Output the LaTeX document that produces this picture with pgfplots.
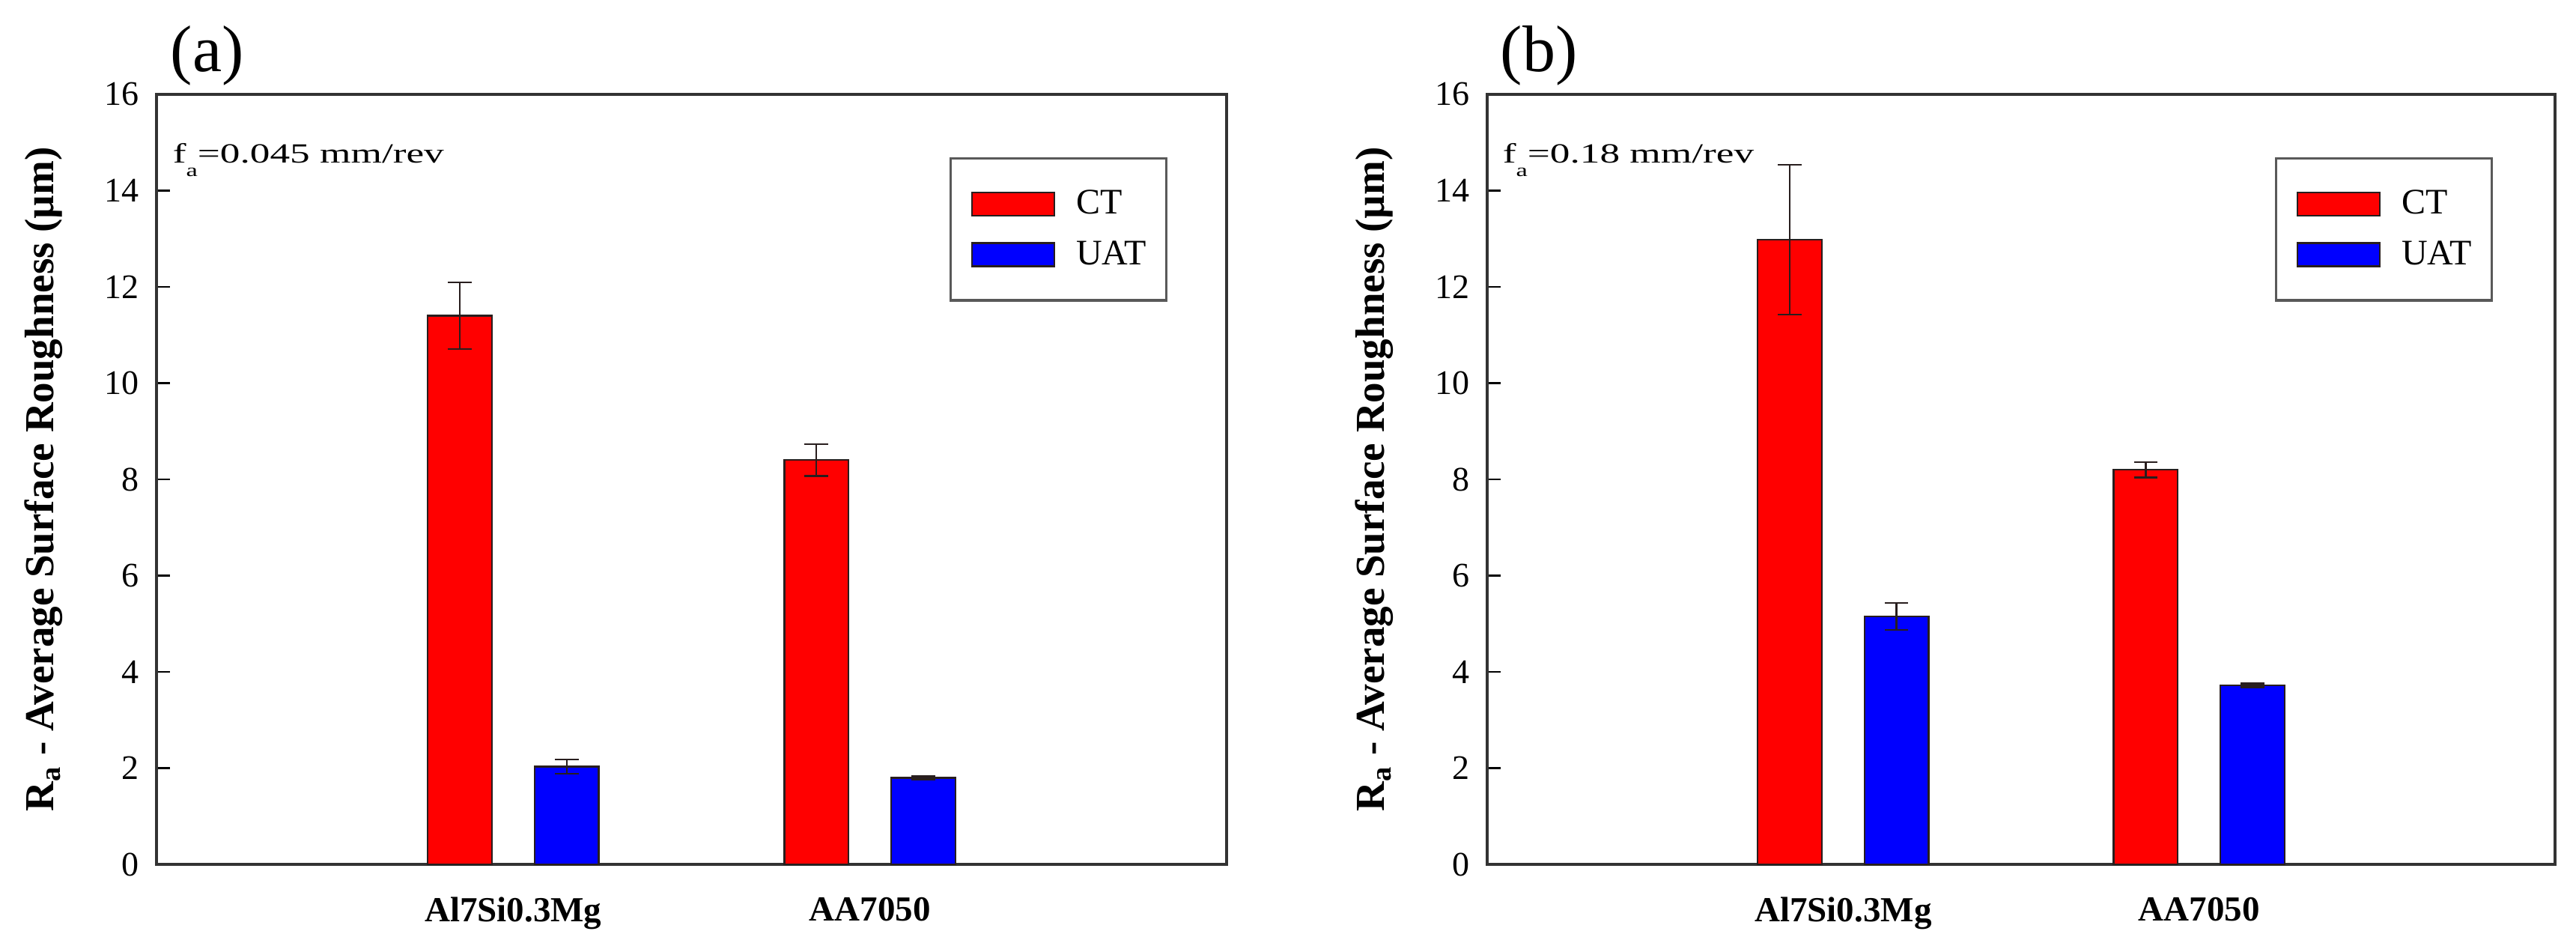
\documentclass[border=0pt]{standalone}
\usepackage{fontspec}
\setmainfont{Liberation Serif}
\usepackage{graphicx}
\usepackage{pgfplots}
\pgfplotsset{compat=1.18}

\definecolor{ctred}{RGB}{255,0,0}
\definecolor{uatblue}{RGB}{0,0,255}
\definecolor{edge}{RGB}{40,30,30}

\pgfplotsset{
  rough/.style={
    scale only axis, height=257pt,
    xmin=0, xmax=3, ymin=0, ymax=16,
    ytick={0,2,...,16}, xtick={1,2},
    xticklabels={Al7Si0.3Mg,AA7050},
    ytick pos=left, tick align=inside, major tick length=4.4pt,
    xtick style={draw=none}, ytick style={black, line width=0.6pt},
    axis line style={black!80, line width=0.8pt},
    /pgf/number format/assume math mode=true,
    yticklabel style={font=\fontsize{11.5}{13}\selectfont, anchor=east, inner sep=0pt, xshift=-5.75pt},
    xticklabel style={font=\bfseries\fontsize{11.75}{14}\selectfont, anchor=north, inner sep=0pt, yshift=-10.75pt},
    ylabel={R\textsubscript{a} - Average Surface Roughness (µm)},
    ylabel style={font=\bfseries\fontsize{13.75}{16}\selectfont, anchor=base},
    legend cell align=left,
    legend style={draw=black!65, line width=0.8pt, inner xsep=6.75pt, inner ysep=10.5pt,
      row sep=7.5pt, anchor=north east, font=\fontsize{12}{14}\selectfont,
      nodes={inner sep=0pt},
      /tikz/every odd column/.append style={column sep=7pt}},
    clip=false,
  },
  ebar/.style={error bars/.cd, y dir=both, y explicit, error mark=|,
      error bar style={edge, line width=0.6pt},
      error mark options={edge, mark size=3.95pt, line width=0.6pt}},
}

\begin{document}
\begin{tikzpicture}
\useasboundingbox (0,0) rectangle (860pt,314.75pt);

% ---------------- panel (a)
\begin{axis}[rough, width=357.25pt, at={(52.25pt,26.25pt)}, anchor=south west,
  ylabel style={at={(axis description cs:-0.0959,0.5)}},
  legend style={at={(0.9447,0.9183)}}]
\addplot[ybar, bar width=0.18, fill=ctred, draw=edge, line width=0.6pt,
  legend image code/.code={\draw[fill=ctred, draw=edge, line width=0.6pt] (0pt,-3.875pt) rectangle (27.5pt,3.875pt);},
  ebar] coordinates {(0.85,11.4) +- (0,0.69) (1.85,8.4) +- (0,0.33)};
\addlegendentry{CT}
\addplot[ybar, bar width=0.18, fill=uatblue, draw=edge, line width=0.6pt,
  legend image code/.code={\draw[fill=uatblue, draw=edge, line width=0.6pt] (0pt,-3.875pt) rectangle (27.5pt,3.875pt);},
  ebar] coordinates {(1.15,2.03) +- (0,0.15) (2.15,1.80) +- (0,0.04)};
\addlegendentry{UAT}
\node[anchor=base west, inner sep=0pt, font=\fontsize{22}{24}\selectfont] at (rel axis cs:0.0126,1.0292) {(a)};
\node[anchor=base west, inner sep=0pt] at (rel axis cs:0.0147,0.9105)
  {\scalebox{1.44}[1]{\fontsize{9.25}{11}\selectfont f\raisebox{-4.5pt}{\fontsize{6}{7}\selectfont a}=0.045 mm/rev}};
\end{axis}

% ---------------- panel (b)
\begin{axis}[rough, width=356.5pt, at={(496.5pt,26.25pt)}, anchor=south west,
  ylabel style={at={(axis description cs:-0.0961,0.5)}},
  legend style={at={(0.9418,0.9183)}}]
\addplot[ybar, bar width=0.18, fill=ctred, draw=edge, line width=0.6pt,
  legend image code/.code={\draw[fill=ctred, draw=edge, line width=0.6pt] (0pt,-3.875pt) rectangle (27.5pt,3.875pt);},
  ebar] coordinates {(0.85,12.98) +- (0,1.56) (1.85,8.20) +- (0,0.16)};
\addlegendentry{CT}
\addplot[ybar, bar width=0.18, fill=uatblue, draw=edge, line width=0.6pt,
  legend image code/.code={\draw[fill=uatblue, draw=edge, line width=0.6pt] (0pt,-3.875pt) rectangle (27.5pt,3.875pt);},
  ebar] coordinates {(1.15,5.15) +- (0,0.28) (2.15,3.72) +- (0,0.04)};
\addlegendentry{UAT}
\node[anchor=base west, inner sep=0pt, font=\fontsize{22}{24}\selectfont] at (rel axis cs:0.0119,1.0292) {(b)};
\node[anchor=base west, inner sep=0pt] at (rel axis cs:0.014,0.9105)
  {\scalebox{1.44}[1]{\fontsize{9.25}{11}\selectfont f\raisebox{-4.5pt}{\fontsize{6}{7}\selectfont a}=0.18 mm/rev}};
\end{axis}
\end{tikzpicture}
\end{document}
